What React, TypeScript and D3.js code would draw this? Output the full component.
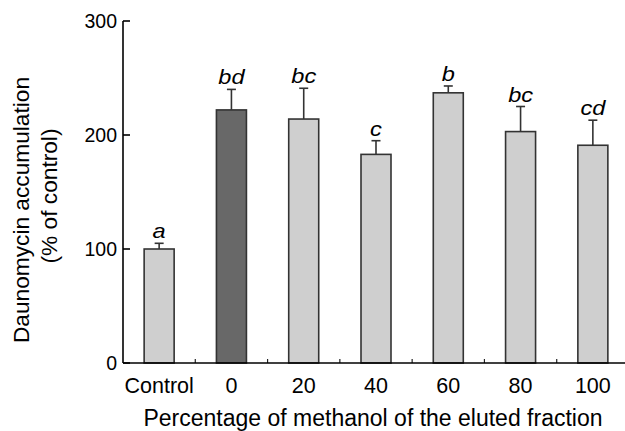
import React from "react";
import * as d3 from "d3";

const categories = ["Control", "0", "20", "40", "60", "80", "100"];
const means = [100, 222, 214, 183, 237, 203, 191];
const errors = [5, 18, 27, 12, 6, 22, 22];
const letters = ["a", "bd", "bc", "c", "b", "bc", "cd"];
const highlighted = ["0"];
const yTicks = [0, 100, 200, 300];

const W = 625;
const H = 431;
const left = 123;
const right = 629;
const top = 21;
const bottom = 363;
const FONT = "'Liberation Sans', Arial, Helvetica, sans-serif";

export default function App() {
  const x = d3.scaleBand<string>().domain(categories).range([left, right]).paddingInner(0).paddingOuter(0);
  const y = d3.scaleLinear().domain([0, 300]).range([bottom, top]);
  const bw = 30;
  const bounds = categories.slice(1).map((c) => x(c)!);

  return (
    <svg width={W} height={H} style={{ position: "absolute", left: 0, top: 0, background: "#fff" }} fontFamily={FONT}>
      {/* bars with upper error bars and significance letters */}
      {categories.map((c, i) => {
        const cx = x(c)! + x.bandwidth() / 2;
        const yTop = y(means[i]);
        const yErr = y(means[i] + errors[i]);
        return (
          <g key={c}>
            <line x1={cx} x2={cx} y1={yTop} y2={yErr} stroke="#333" strokeWidth={1.6} />
            <line x1={cx - 4.5} x2={cx + 4.5} y1={yErr} y2={yErr} stroke="#333" strokeWidth={1.6} />
            <rect
              x={cx - bw / 2}
              y={yTop}
              width={bw}
              height={bottom - yTop}
              fill={highlighted.includes(c) ? "#686868" : "#cfcfcf"}
              stroke="#333"
              strokeWidth={1.6}
            />
            <text
              transform={`translate(${cx},${yErr - 5}) scale(1.15,1)`}
              textAnchor="middle"
              fontSize={20.5}
              fontStyle="italic"
              fill="#000"
            >
              {letters[i]}
            </text>
            <text x={cx} y={393} textAnchor="middle" fontSize={21.5} fill="#000">
              {c}
            </text>
          </g>
        );
      })}
      {/* x-axis minor ticks between categories */}
      {bounds.map((b, i) => (
        <line key={i} x1={b} x2={b} y1={bottom} y2={bottom - 4} stroke="#222" strokeWidth={1.2} />
      ))}
      {/* axes */}
      <line x1={left} x2={W} y1={bottom} y2={bottom} stroke="#000" strokeWidth={1.6} />
      <line x1={left} x2={left} y1={bottom} y2={top} stroke="#000" strokeWidth={1.6} />
      {yTicks.map((t) => (
        <g key={t}>
          <line x1={left} x2={left + 7} y1={y(t)} y2={y(t)} stroke="#000" strokeWidth={1.6} />
          <text x={117} y={y(t)} dy="0.36em" textAnchor="end" fontSize={19.5} fill="#000">
            {t}
          </text>
        </g>
      ))}
      {/* axis titles */}
      <text x={373} y={426} textAnchor="middle" fontSize={23} fill="#000">
        Percentage of methanol of the eluted fraction
      </text>
      <text transform="translate(29,210) rotate(-90)" textAnchor="middle" fontSize={22.7} fill="#000">
        Daunomycin accumulation
      </text>
      <text transform="translate(56.5,196) rotate(-90)" textAnchor="middle" fontSize={22.7} fill="#000">
        (% of control)
      </text>
    </svg>
  );
}
